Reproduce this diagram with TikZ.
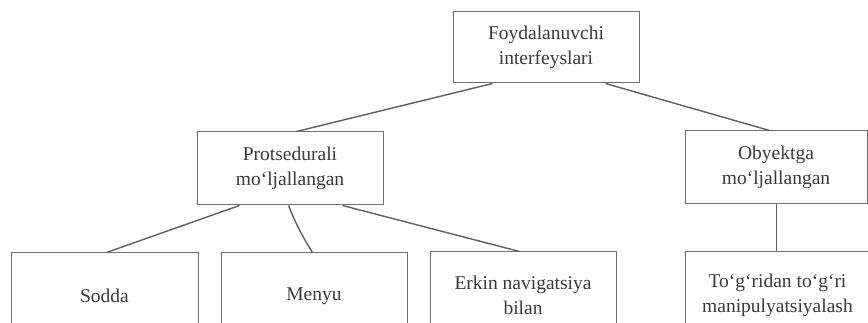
\documentclass[tikz,border=0pt]{standalone}
\usepackage{fontspec}
\setmainfont{Liberation Serif}
\definecolor{boxgray}{HTML}{707070}
\definecolor{linegray}{HTML}{606060}
\definecolor{txt}{HTML}{3A3A3A}
\begin{document}
\begin{tikzpicture}[x=1pt,y=-1pt,
  box/.style={draw=boxgray, line width=1pt, inner sep=0pt, align=center, text=txt,
    font=\fontsize{19.5}{25}\selectfont},
  link/.style={draw=linegray, line width=1.4pt}]
\useasboundingbox (0,0) rectangle (868,323);
\clip (0,0) rectangle (868,323);
\node[box, minimum width=186, minimum height=71] (top) at (546,47.5) {Foydalanuvchi\\interfeyslari};
\node[box, minimum width=186, minimum height=73] (proc) at (290,168.5) {Protsedurali\\mo‘ljallangan};
\node[box, minimum width=182, minimum height=73] (obj) at (776,167.5) {Obyektga\\mo‘ljallangan};
\node[box, minimum width=187, minimum height=86] (sodda) at (104.5,296) {Sodda};
\node[box, minimum width=186, minimum height=86] (menyu) at (314,296) {Menyu};
\node[box, minimum width=186, minimum height=86] (erkin) at (523,295) {Erkin navigatsiya\\bilan};
\node[box, minimum width=185, minimum height=86] (togri) at (777.5,295) {To‘g‘ridan to‘g‘ri\\manipulyatsiyalash};
\draw[link] ([xshift=40pt]top.south west) -- ([xshift=100pt]proc.north west);
\draw[link] ([xshift=-34pt]top.south east) -- ([xshift=85pt]obj.north west);
\draw[link] ([xshift=43pt]proc.south west) -- ([xshift=96pt]sodda.north west);
\draw[link] ([xshift=92pt]proc.south west) to[bend right=5] ([xshift=92pt]menyu.north west);
\draw[link] ([xshift=146pt]proc.south west) -- ([xshift=90pt]erkin.north west);
\draw[link] ([xshift=92pt]obj.south west) -- ([xshift=92pt]togri.north west);
\end{tikzpicture}
\end{document}
